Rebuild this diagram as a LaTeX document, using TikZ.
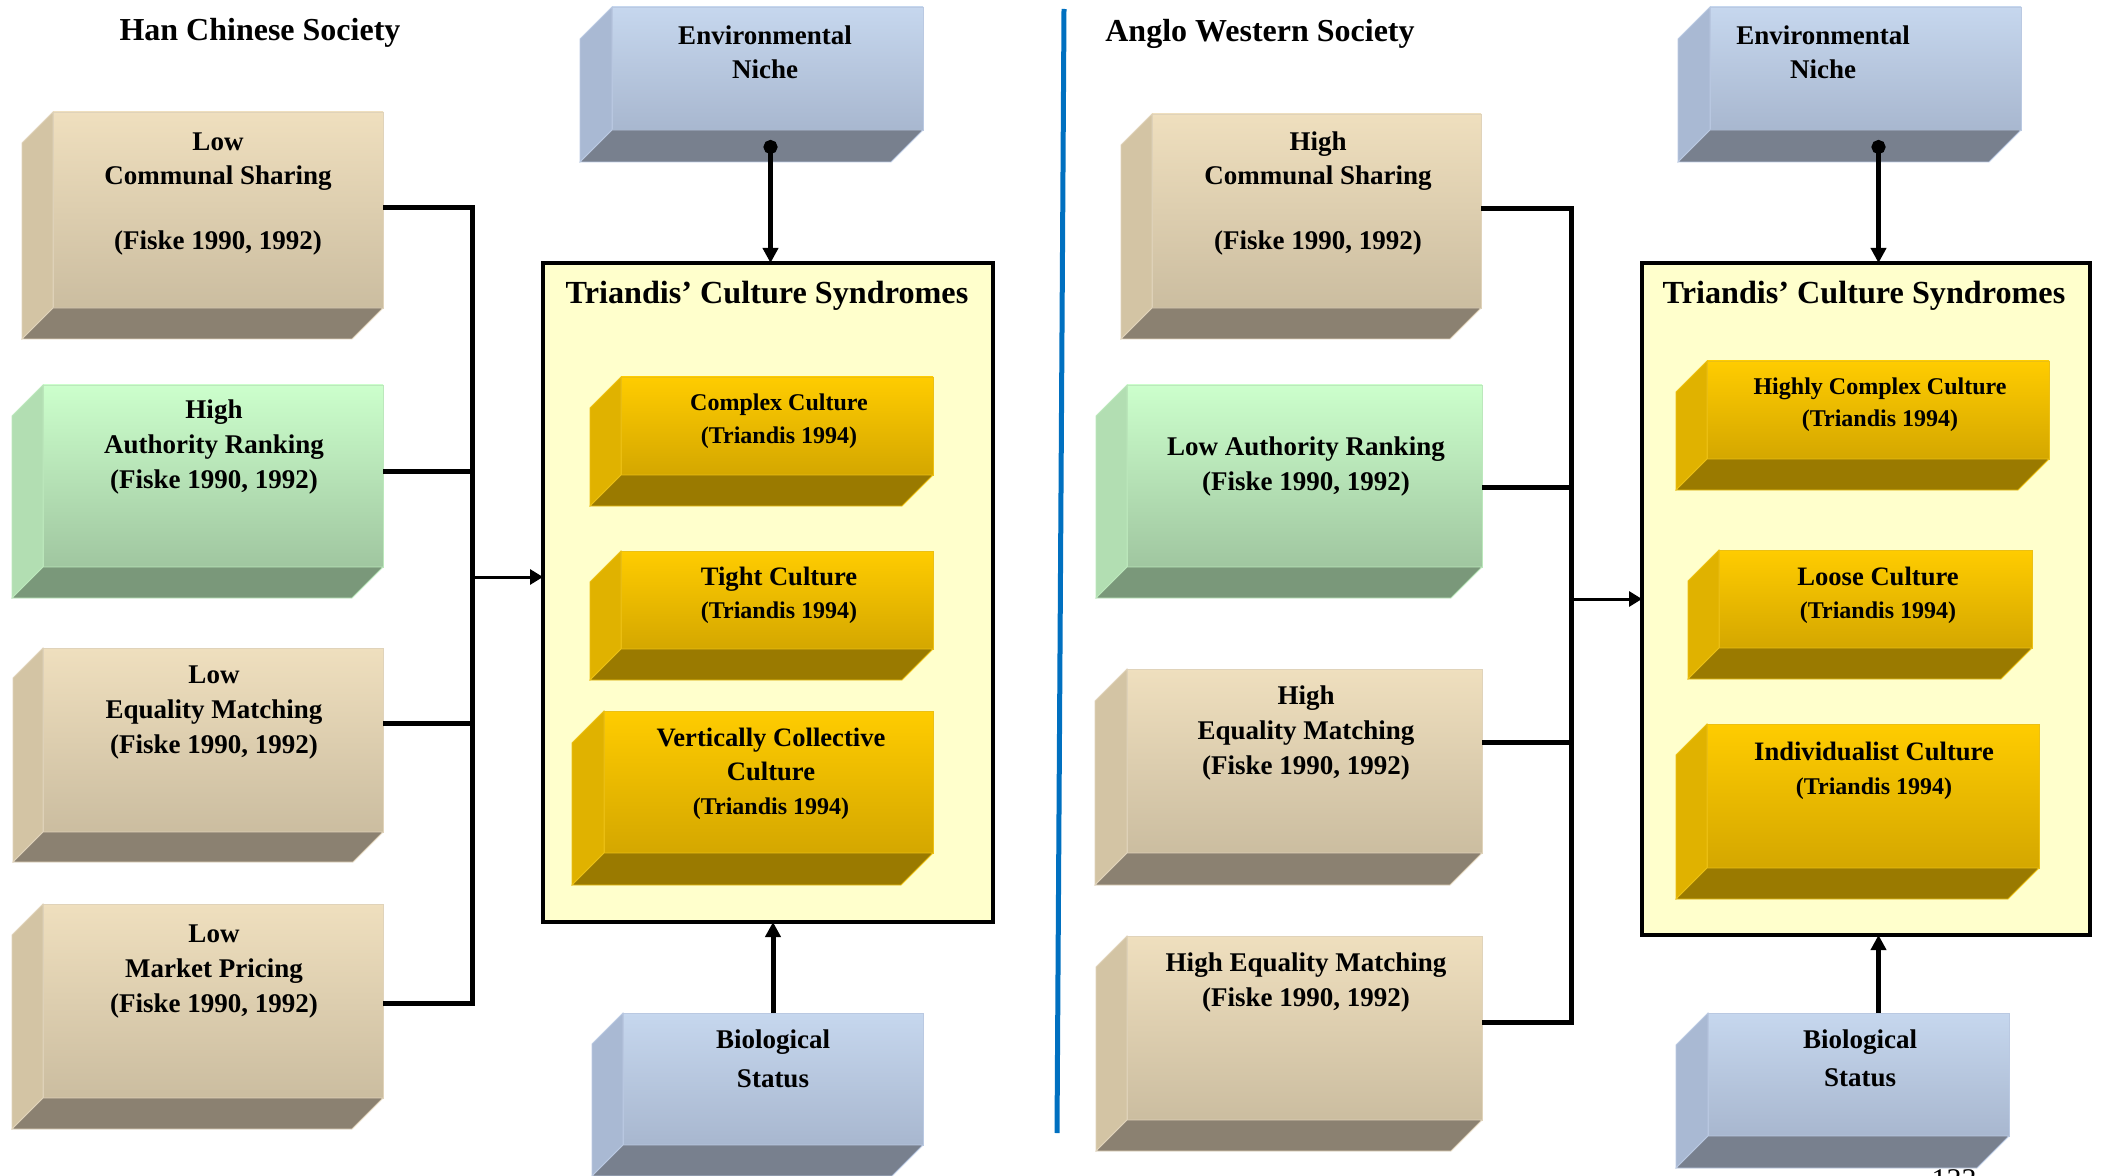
\documentclass[tikz,border=0pt]{standalone}
\usepackage{fontspec}
\setmainfont{Liberation Serif}
\usetikzlibrary{calc,arrows.meta}

% face colours of the solid blocks: front (top/bottom of gradient), side, base, edge
\definecolor{tanTop}{RGB}{239,223,190}
\definecolor{tanBot}{RGB}{203,189,160}
\definecolor{tanSide}{RGB}{211,196,164}
\definecolor{tanBase}{RGB}{139,129,113}
\definecolor{tanEdge}{RGB}{224,211,186}
\definecolor{grnTop}{RGB}{204,255,204}
\definecolor{grnBot}{RGB}{160,198,160}
\definecolor{grnSide}{RGB}{178,222,178}
\definecolor{grnBase}{RGB}{122,152,122}
\definecolor{grnEdge}{RGB}{188,232,188}
\definecolor{bluTop}{RGB}{198,215,238}
\definecolor{bluBot}{RGB}{168,183,207}
\definecolor{bluSide}{RGB}{169,185,211}
\definecolor{bluBase}{RGB}{120,128,142}
\definecolor{bluEdge}{RGB}{186,201,226}
\definecolor{gldTop}{RGB}{255,204,0}
\definecolor{gldBot}{RGB}{212,167,0}
\definecolor{gldSide}{RGB}{224,178,0}
\definecolor{gldBase}{RGB}{154,122,0}
\definecolor{gldEdge}{RGB}{236,192,20}
\definecolor{synFill}{RGB}{255,255,204}
\definecolor{divBlue}{RGB}{0,112,192}

% \slab{name}{palette}{x1}{y1}{x2}{y2}{depth}: front face as a node, plus left side and base
\newcommand{\slab}[7]{%
  \node[inner sep=0pt, outer sep=0pt, draw=#2Edge, line width=0.4pt,
        top color=#2Top, bottom color=#2Bot,
        minimum width={(#5-#3)*0.5pt}, minimum height={(#6-#4)*0.5pt}]
        (#1) at ({(#3+#5)/2},{(#4+#6)/2}) {};
  \filldraw[fill=#2Side, draw=#2Edge, line width=0.4pt]
    ($(#1.north west)+(-#7,#7)$) -- (#1.north west) -- (#1.south west)
    -- ($(#1.south west)+(-#7,#7)$) -- cycle;
  \filldraw[fill=#2Base, draw=#2Edge, line width=0.4pt]
    ($(#1.south west)+(-#7,#7)$) -- (#1.south west) -- (#1.south east)
    -- ($(#1.south east)+(-#7,#7)$) -- cycle;
}
% \synframe{name}{x1}{y1}{x2}{y2}: framed container of the culture syndromes
\newcommand{\synframe}[5]{%
  \node[inner sep=0pt, outer sep=0pt, draw=black, line width=1.75pt, fill=synFill,
        minimum width={(#4-#2)*0.5pt}, minimum height={(#5-#3)*0.5pt}]
        (#1) at ({(#2+#4)/2},{(#3+#5)/2}) {};
}

\begin{document}
\begin{tikzpicture}[x=0.5pt,y=-0.5pt,
  wire/.style={line width=2.5pt, line join=miter},
  feed/.style={line width=1.5pt, -{Triangle[length=6.5pt,width=7.5pt]}},
  rise/.style={line width=2.5pt, -{Triangle[length=7.5pt,width=7.5pt]}},
  dotrise/.style={line width=2.5pt, {Circle[length=7pt]}-{Triangle[length=7.5pt,width=7.5pt]}},
  txt/.style={inner sep=0pt, align=center, anchor=north,
              font=\bfseries\fontsize{13.5}{#1}\selectfont},
  txt/.default=17.5,
  gold/.style={inner sep=0pt, align=center, anchor=north,
               font=\bfseries\fontsize{12}{#1}\selectfont},
  gold/.default=16.5,
  heading/.style={inner sep=0pt, anchor=base, font=\bfseries\fontsize{16}{19}\selectfont},
  synhead/.style={inner sep=0pt, anchor=base, font=\bfseries\fontsize{16.1}{19}\selectfont},
]
\useasboundingbox (0,0) rectangle (2103,1176);

% ---------------- Han Chinese society ----------------
\node[heading] (han) at (260,41) {Han Chinese Society};

\slab{lcs}{tan}{53}{112}{383}{308}{31}
\slab{lar}{grn}{43}{385}{383}{567}{31}
\slab{lem}{tan}{43}{648}{383}{832}{30}
\slab{lmp}{tan}{43}{904}{383}{1098}{31}
\slab{len}{blu}{612}{7}{923}{130}{32}
\slab{lbio}{blu}{623}{1013}{923}{1145}{31}

\node[txt=17] (lcs-t) at (218,126) {\strut Low\\Communal Sharing\\[15.5pt](Fiske 1990, 1992)};
\node[txt] (lar-t) at (214,393.5) {\strut High\\Authority Ranking\\(Fiske 1990, 1992)};
\node[txt] (lem-t) at (214,658.5) {\strut Low\\Equality Matching\\(Fiske 1990, 1992)};
\node[txt] (lmp-t) at (214,917.5) {\strut Low\\Market Pricing\\(Fiske 1990, 1992)};
\node[txt=17] (len-t) at (765,20) {\strut Environmental\\Niche};
\node[txt=19.5] (lbio-t) at (773,1021) {\strut Biological\\Status};

\synframe{lsyn}{543}{263}{993}{922}
\node[synhead] (lsyn-h) at (767,304) {Triandis’ Culture Syndromes};
\slab{lcc}{gld}{621}{377}{933}{475}{31}
\slab{ltc}{gld}{621}{551}{933}{649}{31}
\slab{lvc}{gld}{604}{711}{933}{853}{32}
\node[gold] (lcc-t) at (779,387) {\strut Complex Culture\\(Triandis 1994)};
\node[gold] (ltc-t) at (779,562) {\strut{\fontsize{13.3}{16.5}\selectfont Tight Culture}\\(Triandis 1994)};
\node[gold=17] (lvc-t) at (771,722) {\strut{\fontsize{13.3}{17}\selectfont Vertically Collective}\\{\fontsize{13.3}{17}\selectfont Culture}\\(Triandis 1994)};

% relational models feeding the syndromes
\coordinate (lb) at (472,577);
\path ([yshift=1pt]lcs.east) coordinate (l1)
      ([yshift=2.5pt]lar.east) coordinate (l2)
      ([yshift=8.5pt]lem.east) coordinate (l3)
      ([yshift=-1pt]lmp.east) coordinate (l4);
\draw[wire] (l1) -| (l4 -| lb) -- (l4);
\draw[wire] (l2) -- (l2 -| lb);
\draw[wire] (l3) -- (l3 -| lb);
\draw[feed] (lb) -- (lb -| lsyn.west);

\path ([xshift=1.5pt,yshift=-5pt]len.south) coordinate (ldot);
\draw[dotrise] (ldot) -- (ldot |- lsyn.north);
\draw[rise] (lbio.north) -- (lbio.north |- lsyn.south);

% ---------------- divider ----------------
\draw[line width=2.5pt, divBlue] (1064,9) -- (1057,1133);

% ---------------- Anglo Western society ----------------
\node[heading] (anglo) at (1260,42) {Anglo Western Society};

\slab{rcs}{tan}{1152}{114}{1481}{308}{31}
\slab{rar}{grn}{1127}{385}{1482}{567}{31}
\slab{rem}{tan}{1127}{669}{1482}{853}{32}
\slab{rhe}{tan}{1127}{936}{1482}{1120}{31}
\slab{ren}{blu}{1710}{7}{2021}{130}{32}
\slab{rbio}{blu}{1708}{1013}{2009}{1136}{32}

\node[txt=17] (rcs-t) at (1318,126) {\strut High\\Communal Sharing\\[15.5pt](Fiske 1990, 1992)};
\node[txt] (rar-t) at (1306,430.5) {\strut Low Authority Ranking\\(Fiske 1990, 1992)};
\node[txt] (rem-t) at (1306,679.5) {\strut High\\Equality Matching\\(Fiske 1990, 1992)};
\node[txt] (rhe-t) at (1306,946.5) {\strut High Equality Matching\\(Fiske 1990, 1992)};
\node[txt=17] (ren-t) at (1823,20) {\strut Environmental\\Niche};
\node[txt=18.75] (rbio-t) at (1860,1022) {\strut Biological\\Status};

\synframe{rsyn}{1642}{263}{2090}{935}
\node[synhead] (rsyn-h) at (1864,304) {Triandis’ Culture Syndromes};
\slab{rhc}{gld}{1707}{361}{2049}{459}{31}
\slab{rlc}{gld}{1719}{550}{2032}{648}{31}
\slab{ric}{gld}{1707}{724}{2039}{868}{31}
\node[gold=16] (rhc-t) at (1880,372) {\strut Highly Complex Culture\\(Triandis 1994)};
\node[gold] (rlc-t) at (1878,562) {\strut{\fontsize{13.3}{16.5}\selectfont Loose Culture}\\(Triandis 1994)};
\node[gold=17] (ric-t) at (1874,736) {\strut{\fontsize{13.3}{17}\selectfont Individualist Culture}\\(Triandis 1994)};

\coordinate (rb) at (1571,599);
\path ([yshift=1pt]rcs.east) coordinate (r1)
      ([yshift=-5.5pt]rar.east) coordinate (r2)
      ([yshift=9.5pt]rem.east) coordinate (r3)
      ([yshift=3pt]rhe.east) coordinate (r4);
\draw[wire] (r1) -| (r4 -| rb) -- (r4);
\draw[wire] (r2) -- (r2 -| rb);
\draw[wire] (r3) -- (r3 -| rb);
\draw[feed] (rsyn.west -| rb) -- (rsyn.west);

\path ([xshift=6.5pt,yshift=-5pt]ren.south) coordinate (rdot);
\draw[dotrise] (rdot) -- (rdot |- rsyn.north);
\path ([xshift=10pt]rbio.north) coordinate (rbtop);
\draw[rise] (rbtop) -- (rbtop |- rsyn.south);

% page number, cut by the lower edge
\begin{scope}
  \clip (0,0) rectangle (2103,1176);
  \node[inner sep=0pt, anchor=north, font=\fontsize{15}{18}\selectfont] (pageno) at (1954,1169) {133};
\end{scope}
\end{tikzpicture}
\end{document}
